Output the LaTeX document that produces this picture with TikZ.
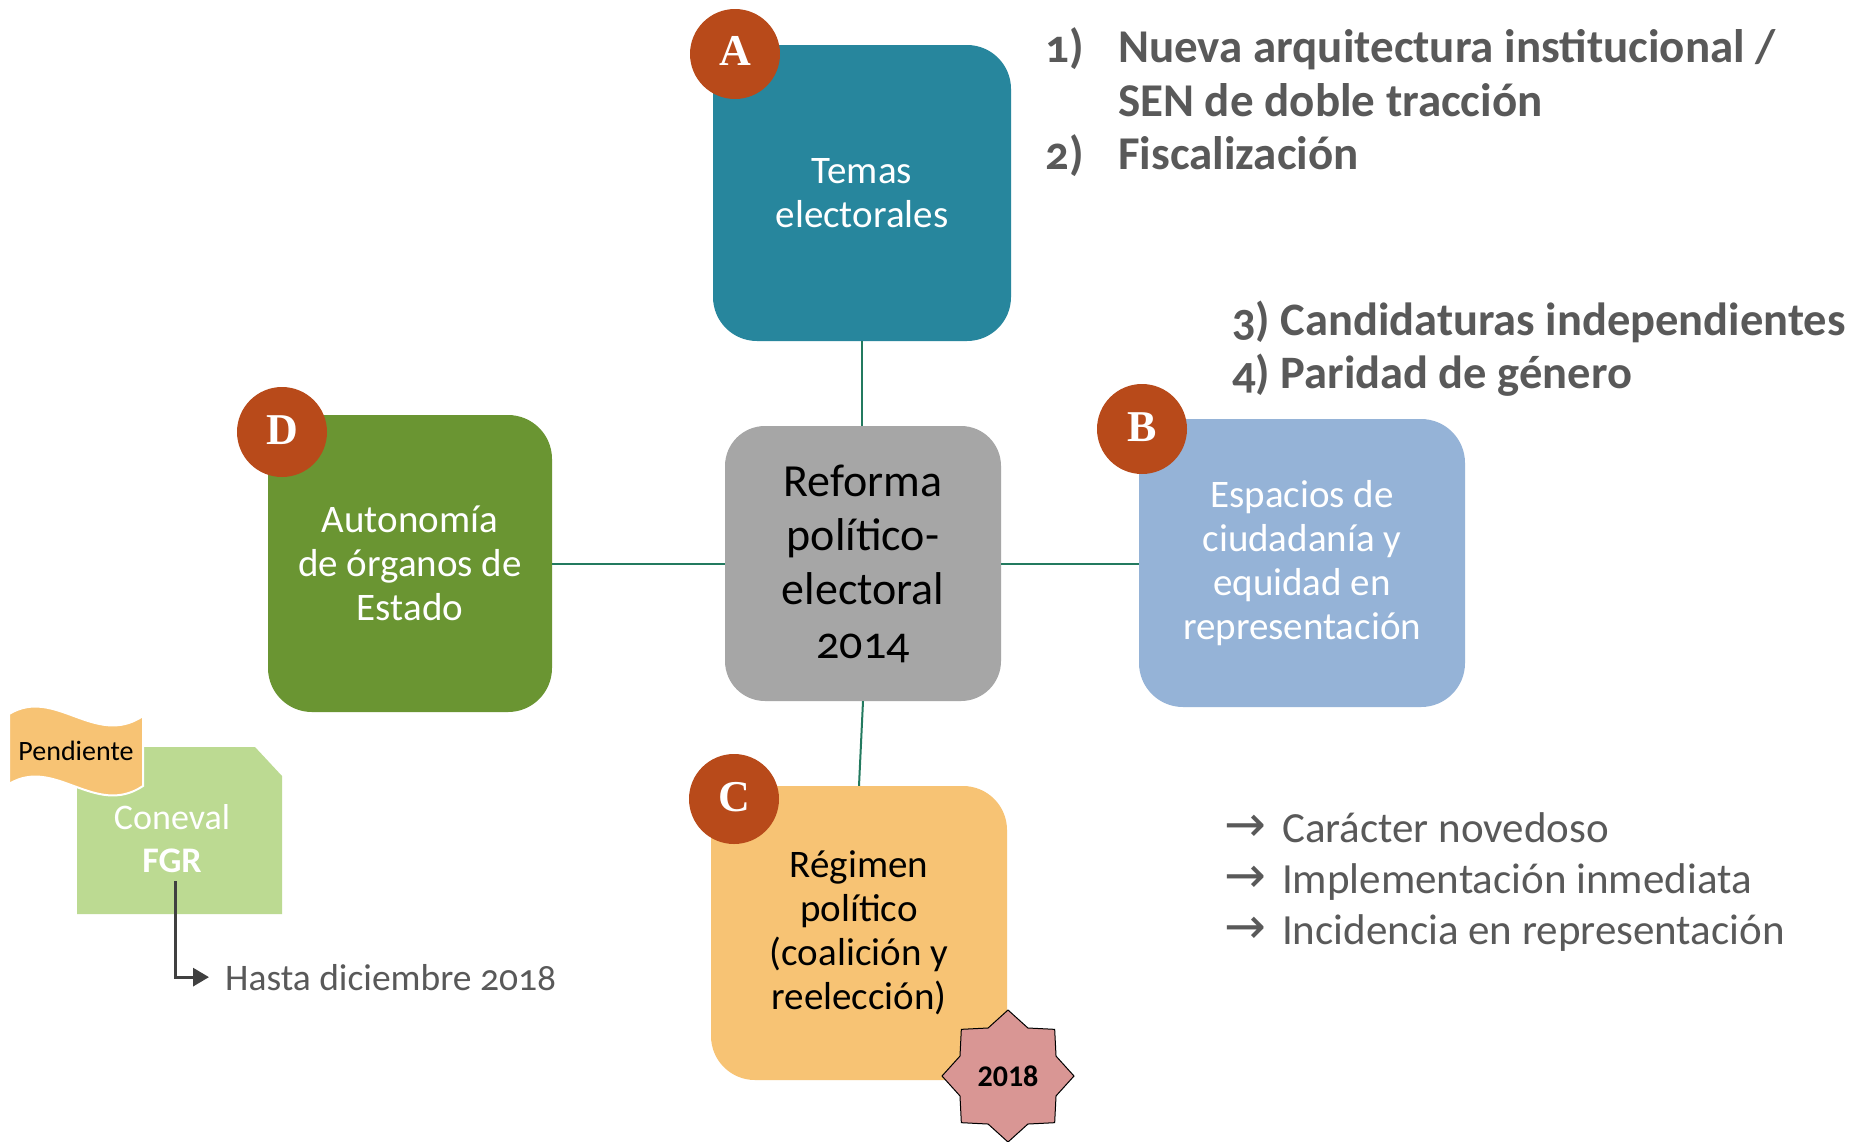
\documentclass[tikz,border=0pt]{standalone}
\usepackage{fontspec}
\setmainfont{Carlito}[Numbers=OldStyle]
\newfontfamily\letf{Liberation Serif}
\newfontfamily\symf{DejaVu Sans}
\usetikzlibrary{shapes.geometric,arrows.meta}
\definecolor{cA}{HTML}{27869D}
\definecolor{cR}{HTML}{A6A6A6}
\definecolor{cD}{HTML}{6A9532}
\definecolor{cB}{HTML}{95B3D7}
\definecolor{cC}{HTML}{F7C374}
\definecolor{cLet}{HTML}{B84A1A}
\definecolor{cConn}{HTML}{237A5F}
\definecolor{cTxt}{HTML}{595959}
\definecolor{cCon}{HTML}{BCDA92}
\definecolor{cStar}{HTML}{D99694}
\definecolor{cArr}{HTML}{404040}
\newcommand{\arrglyph}{\raisebox{1pt}{\symf\fontsize{50}{50}\selectfont →}}
\tikzset{
  bigbox/.style={rectangle, rounded corners=44pt, draw=none, align=center, inner sep=0pt,
    font=\fontsize{39}{44}\selectfont},
  letter/.style={circle, fill=cLet, text=white, minimum size=90pt, inner sep=0pt,
    font=\letf\bfseries\fontsize{44}{44}\selectfont},
  conn/.style={draw=cConn, line width=2pt},
  listb/.style={anchor=base west, inner sep=0pt, text=cTxt, font=\bfseries\fontsize{47}{54}\selectfont},
  listr/.style={anchor=base west, inner sep=0pt, text=cTxt, font=\fontsize{43}{50}\selectfont},
}
\begin{document}
\begin{tikzpicture}[x=1pt,y=-1pt]
\useasboundingbox (0,0) rectangle (1857,1141);
\fill[white] (0,0) rectangle (1857,1141);

% main boxes
\node[bigbox, fill=cA, text=white, minimum width=298pt, minimum height=296pt] (A) at (862,193) {Temas\\electorales};
\node[bigbox, fill=cR, text=black, minimum width=276pt, minimum height=275pt, rounded corners=40pt,
  font=\fontsize{46}{54}\selectfont] (R) at (863,563.5) {Reforma\\político-\\electoral\\2014};
\node[bigbox, fill=cD, text=white, minimum width=284pt, minimum height=297pt] (D) at (410,563.5) {Autonomía\\de órganos de\\Estado};
\node[bigbox, fill=cB, text=white, minimum width=326pt, minimum height=288pt] (B) at (1302,563) {Espacios de\\ciudadanía y\\equidad en\\representación};
\node[bigbox, fill=cC, text=black, minimum width=296pt, minimum height=294pt] (C) at (859,933) {Régimen\\político\\(coalición y\\reelección)};

% connectors
\draw[conn] (A.south) -- (A.south |- R.north);
\draw[conn] (D.east) -- (R.west);
\draw[conn] (R.east) -- (R.east -| B.west);
\draw[conn] (R.south) -- (C.north);

% letters
\node[letter] (lA) at (735,54) {\raisebox{6pt}{A}};
\node[letter] (lB) at (1142,429) {\raisebox{4pt}{B}};
\node[letter] (lC) at (734,799) {\raisebox{4pt}{C}};
\node[letter] (lD) at (282,432) {\raisebox{4pt}{D}};

% star
\node[star, star points=8, star point ratio=1.27, minimum size=132pt, inner sep=0pt,
  fill=cStar, draw=black, line width=1pt, font=\bfseries\fontsize{30}{30}\selectfont\addfontfeatures{Numbers=Lining}] (st) at (1008,1076) {2018};

% Coneval box
\fill[cCon] (77,747) -- (255,747) -- (282,776) -- (282,914) -- (77,914) -- cycle;
\node[text=white, inner sep=0pt, font=\fontsize{36}{40}\selectfont] (con) at (172,817) {Coneval};
\node[text=white, inner sep=0pt, font=\bfseries\fontsize{36}{40}\selectfont] (fgr) at (172,861) {FGR};

% banner
\filldraw[fill=cC, draw=white, line width=2pt]
  (9,714) .. controls (55,686) and (95,748) .. (143,716)
  -- (143,786) .. controls (95,818) and (55,756) .. (9,784) -- cycle;
\node[text=black, inner sep=0pt, font=\fontsize{28}{30}\selectfont] (pend) at (76,751) {Pendiente};

% Hasta
\node[anchor=base west, inner sep=0pt, text=cTxt, font=\fontsize{37.5}{40}\selectfont] (hasta) at (225,990) {Hasta diciembre 2018};
\draw[draw=cArr, line width=3pt, -{Triangle[length=16pt,width=18pt]}, shorten >=16pt]
  ([xshift=3pt,yshift=-8pt]fgr.south) |- (hasta.west);

% top right lists
\node[listb] (n1) at (1045,62) {1)};
\node[listb] (t1) at (1118,62) {Nueva arquitectura institucional /};
\node[listb] (t1b) at (1118,116) {SEN de doble tracción};
\node[listb] (n2) at (1045,169) {2)};
\node[listb] (t2) at (1118,169) {Fiscalización};
\node[listb, font=\bfseries\fontsize{46.5}{54}\selectfont] (t3) at (1232,335) {3) Candidaturas independientes};
\node[listb, font=\bfseries\fontsize{46.5}{54}\selectfont] (t4) at (1232,388) {4) Paridad de género};

% bottom right list
\node[listr] (a1) at (1224,842) {\arrglyph\hspace{16pt}Carácter novedoso};
\node[listr] (a2) at (1224,893) {\arrglyph\hspace{16pt}Implementación inmediata};
\node[listr] (a3) at (1224,944) {\arrglyph\hspace{16pt}Incidencia en representación};
\end{tikzpicture}
\end{document}
